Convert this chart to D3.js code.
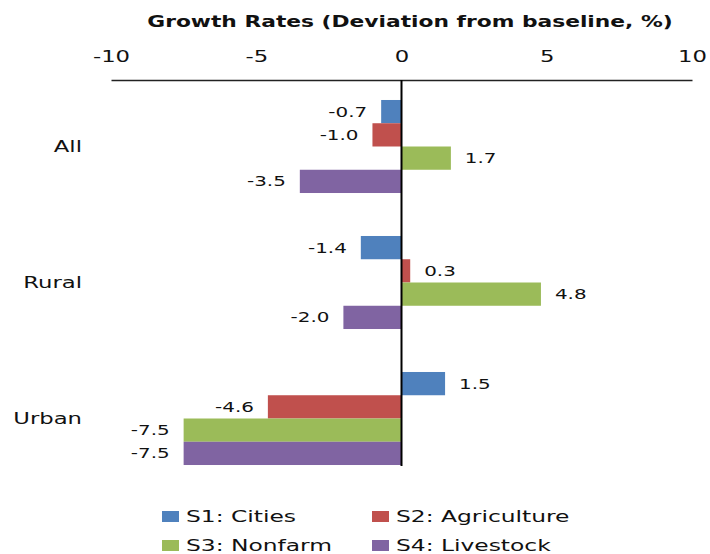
<!DOCTYPE html>
<html><head><meta charset="utf-8">
<script src="https://cdn.jsdelivr.net/npm/d3@7"></script>
<style>body{margin:0;background:#fff}svg{display:block}text{font-family:"DejaVu Sans",sans-serif;fill:#111}</style>
</head><body><svg id="c" width="710" height="554"></svg>
<script>
const categories = ["All", "Rural", "Urban"];
const seriesNames = ["S1: Cities", "S2: Agriculture", "S3: Nonfarm", "S4: Livestock"];
const seriesColors = ["#4F81BD", "#C0504D", "#9BBB59", "#8064A2"];
const s1 = [-0.7, -1.4, 1.5];
const s2 = [-1.0, 0.3, -4.6];
const s3 = [1.7, 4.8, -7.5];
const s4 = [-3.5, -2.0, -7.5];
const xTicks = [-10, -5, 0, 5, 10];
const title = "Growth Rates (Deviation from baseline, %)";

const series = [s1, s2, s3, s4];
const svg = d3.select("#c");
const SX = 1.42;

function stretch(sel, f) {
  sel.each(function() {
    const n = this.getComputedTextLength();
    d3.select(this).attr("textLength", n * (f || SX)).attr("lengthAdjust", "spacingAndGlyphs");
  });
  return sel;
}

const x = d3.scaleLinear().domain([-10, 10]).range([111, 692]);
const y = d3.scaleBand().domain(categories).range([78.5, 486.5]).paddingInner(0.316).paddingOuter(0.158);
const yi = d3.scaleBand().domain(d3.range(4)).range([0, y.bandwidth()]);

// title
stretch(svg.append("text").attr("x", 410).attr("y", 27).attr("text-anchor", "middle")
  .attr("font-size", 16).attr("font-weight", "bold").text(title), 1.36);

// top axis
const ax = svg.append("g").attr("transform", "translate(0,80)")
  .call(d3.axisTop(x).tickValues(xTicks).tickSize(0).tickPadding(0).tickFormat(d => d3.format("d")(d).replace("−", "-")));
ax.select(".domain").attr("stroke", "#222").attr("stroke-width", 1.5);
ax.selectAll("text").attr("font-size", 16).attr("y", -18).attr("fill", "#111");
stretch(ax.selectAll("text"));

// bars
const rows = [];
categories.forEach((c, ci) => series.forEach((s, si) => rows.push({c, si, v: s[ci]})));
svg.append("g").selectAll("rect").data(rows).join("rect")
  .attr("x", d => x(Math.min(0, d.v)))
  .attr("width", d => Math.abs(x(d.v) - x(0)))
  .attr("y", d => y(d.c) + yi(d.si))
  .attr("height", yi.bandwidth())
  .attr("fill", d => seriesColors[d.si]);

// zero line
svg.append("line").attr("x1", x(0)).attr("x2", x(0)).attr("y1", 80).attr("y2", 466)
  .attr("stroke", "#000").attr("stroke-width", 2);

// value labels
const lab = svg.append("g").selectAll("text").data(rows).join("text")
  .attr("x", d => d.v < 0 ? x(d.v) - 14 : x(d.v) + 14)
  .attr("y", d => y(d.c) + yi(d.si) + yi.bandwidth() / 2)
  .attr("dy", "0.36em")
  .attr("text-anchor", d => d.v < 0 ? "end" : "start")
  .attr("font-size", 14)
  .text(d => d3.format(".1f")(d.v).replace("−", "-"));
stretch(lab);

// category labels
const cl = svg.append("g").selectAll("text").data(categories).join("text")
  .attr("x", 82).attr("y", d => y(d) + y.bandwidth() / 2)
  .attr("dy", "0.36em").attr("text-anchor", "end").attr("font-size", 16).text(d => d);
stretch(cl);

// legend
const lg = svg.append("g");
const lx = [162, 372], ly = [516, 545];
seriesNames.forEach((n, i) => {
  const gx = lx[i % 2], gy = ly[Math.floor(i / 2)];
  lg.append("rect").attr("x", gx).attr("y", gy - 5).attr("width", 17).attr("height", 11).attr("fill", seriesColors[i]);
  stretch(lg.append("text").attr("x", gx + 24).attr("y", gy).attr("dy", "0.36em").attr("font-size", 16).text(n), 1.46);
});
</script></body></html>
